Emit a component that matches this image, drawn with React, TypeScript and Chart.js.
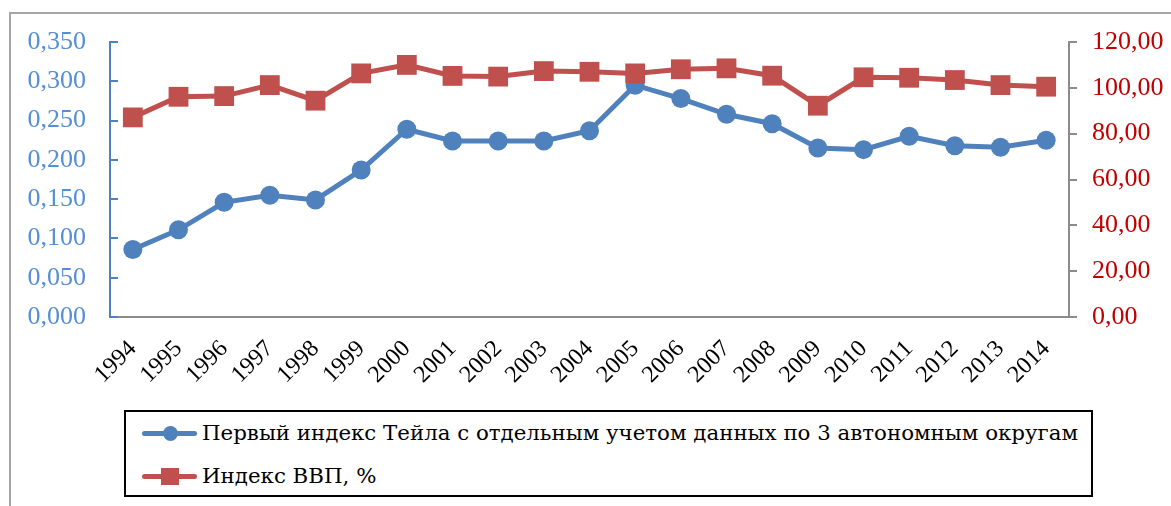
import React, { useEffect, useRef } from 'react';
import { Chart, registerables } from 'chart.js';

Chart.register(...registerables);

const years = ['1994', '1995', '1996', '1997', '1998', '1999', '2000', '2001', '2002', '2003', '2004', '2005', '2006', '2007', '2008', '2009', '2010', '2011', '2012', '2013', '2014'];
const theilIndex = [0.086, 0.111, 0.146, 0.155, 0.149, 0.187, 0.239, 0.224, 0.224, 0.224, 0.237, 0.295, 0.278, 0.258, 0.246, 0.215, 0.213, 0.230, 0.218, 0.216, 0.225];
const gdpIndex = [87.1, 96.1, 96.4, 101.2, 94.4, 106.3, 110.0, 105.2, 104.9, 107.3, 107.0, 106.3, 108.1, 108.5, 105.3, 92.2, 104.6, 104.4, 103.4, 101.2, 100.5];
const theilLabel = 'Первый индекс Тейла с отдельным учетом данных по 3 автономным округам';
const gdpLabel = 'Индекс ВВП, %';
const leftAxisMax = 0.35;
const leftAxisStep = 0.05;
const rightAxisMax = 120;
const rightAxisStep = 20;

const BLUE = '#4F81BD';
const RED = '#C0504D';
const SERIF = '"Liberation Serif", "Times New Roman", serif';
const LEGEND_TEXT_WIDTH = 876;

const insideTicks = {
  id: 'insideTicks',
  afterDraw(chart: any) {
    const scale = chart.scales.y;
    const ctx = chart.ctx;
    ctx.save();
    ctx.strokeStyle = BLUE;
    ctx.lineWidth = 2;
    scale.ticks.forEach((t: any) => {
      const y = Math.round(scale.getPixelForValue(t.value));
      ctx.beginPath();
      ctx.moveTo(scale.right, y);
      ctx.lineTo(scale.right + 8, y);
      ctx.stroke();
    });
    ctx.restore();
  },
};

export default function App() {
  const ref = useRef<HTMLCanvasElement>(null);
  const row1 = useRef<HTMLDivElement>(null);
  const row2 = useRef<HTMLDivElement>(null);

  useEffect(() => {
    if (row1.current && row2.current) {
      const w = row1.current.getBoundingClientRect().width;
      if (w > 0) {
        const s = LEGEND_TEXT_WIDTH / w;
        row1.current.style.transform = `scaleX(${s})`;
        row2.current.style.transform = `scaleX(${s})`;
      }
    }
    if (!ref.current) return;
    const chart = new Chart(ref.current, {
      type: 'line',
      data: {
        labels: years,
        datasets: [
          {
            label: theilLabel,
            data: theilIndex,
            yAxisID: 'y',
            borderColor: BLUE,
            backgroundColor: BLUE,
            borderWidth: 5,
            pointStyle: 'circle',
            pointRadius: 9.5,
            pointBorderWidth: 0,
            pointBackgroundColor: BLUE,
            tension: 0,
            order: 2,
          },
          {
            label: gdpLabel,
            data: gdpIndex,
            yAxisID: 'y1',
            borderColor: RED,
            backgroundColor: RED,
            borderWidth: 5,
            pointStyle: 'rect',
            pointRadius: 14,
            pointBorderWidth: 0,
            pointBackgroundColor: RED,
            tension: 0,
            order: 1,
          },
        ],
      },
      options: {
        responsive: false,
        animation: false,
        devicePixelRatio: 1,
        layout: { padding: { top: 42, left: 0, right: 0, bottom: 0 } },
        plugins: { legend: { display: false }, tooltip: { enabled: false } },
        scales: {
          x: {
            offset: true,
            grid: { display: true, drawOnChartArea: false, drawTicks: false },
            border: { display: true, color: '#8C8C8C', width: 2 },
            ticks: {
              color: '#000000',
              font: { family: SERIF, size: 24 },
              minRotation: 45,
              maxRotation: 45,
              padding: 18,
              autoSkip: false,
            },
            afterFit(scale: any) {
              scale.height = 405 - 317;
            },
          },
          y: {
            position: 'left',
            min: 0,
            max: leftAxisMax,
            grid: { display: true, drawOnChartArea: false, drawTicks: false },
            border: { display: true, color: BLUE, width: 2 },
            ticks: {
              stepSize: leftAxisStep,
              color: '#558ED5',
              font: { family: SERIF, size: 26 },
              padding: 24,
              callback: (v: any) => Number(v).toFixed(3).replace('.', ','),
            },
            afterFit(scale: any) {
              scale.width = 110;
            },
          },
          y1: {
            position: 'right',
            min: 0,
            max: rightAxisMax,
            grid: { display: true, drawOnChartArea: false, drawTicks: true, tickLength: 8, color: '#8C8C8C', lineWidth: 2 },
            border: { display: true, color: '#8C8C8C', width: 2 },
            ticks: {
              stepSize: rightAxisStep,
              color: '#C00000',
              font: { family: SERIF, size: 26 },
              padding: 15,
              callback: (v: any) => Number(v).toFixed(2).replace('.', ','),
            },
            afterFit(scale: any) {
              scale.width = 1171 - 1069;
            },
          },
        },
      },
      plugins: [insideTicks],
    });
    return () => chart.destroy();
  }, []);

  const rowText: React.CSSProperties = {
    position: 'absolute',
    left: 76,
    fontFamily: '"DejaVu Serif", "Liberation Serif", serif',
    fontSize: 21,
    lineHeight: '28px',
    color: '#000',
    whiteSpace: 'nowrap',
    transformOrigin: '0 50%',
  };

  return (
    <div style={{ position: 'fixed', left: 0, top: 0, width: 1171, height: 506, background: '#fff', overflow: 'hidden' }}>
      <div style={{ position: 'absolute', left: 9, top: 12, right: -10, bottom: -10, borderTop: '2px solid #A6A6A6', borderLeft: '2px solid #A6A6A6' }} />
      <canvas ref={ref} width={1171} height={405} style={{ position: 'absolute', left: 0, top: 0, width: 1171, height: 405 }} />
      <div style={{ position: 'absolute', left: 124, top: 410, width: 969, height: 87, border: '2px solid #000', boxSizing: 'border-box', background: '#fff' }}>
        <div style={{ position: 'absolute', left: 16, top: 18.5, width: 55, height: 5, borderRadius: 2.5, background: BLUE }} />
        <div style={{ position: 'absolute', left: 37, top: 13.5, width: 15, height: 15, borderRadius: '50%', background: BLUE }} />
        <div ref={row1} style={{ ...rowText, top: 7 }}>{theilLabel}</div>
        <div style={{ position: 'absolute', left: 16, top: 61.5, width: 55, height: 5, borderRadius: 2.5, background: RED }} />
        <div style={{ position: 'absolute', left: 35, top: 55.5, width: 18, height: 17, background: RED }} />
        <div ref={row2} style={{ ...rowText, top: 50 }}>{gdpLabel}</div>
      </div>
    </div>
  );
}
